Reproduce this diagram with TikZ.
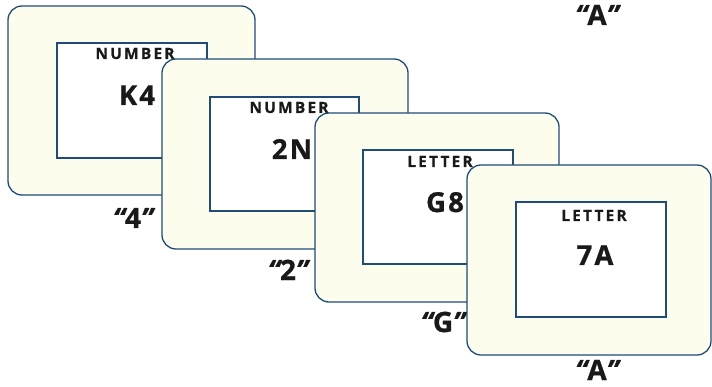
\documentclass[tikz,border=0pt]{standalone}
\usepackage{fontspec}
\setmainfont{Open Sans}
\definecolor{frame}{HTML}{1F4C78}
\definecolor{cream}{HTML}{FDFDEE}
\begin{document}
\begin{tikzpicture}[x=1pt,y=-1pt,
  card/.style={draw=frame,fill=cream,line width=1.3pt,rounded corners=14pt},
  win/.style={draw=frame,fill=white,line width=1.1pt},
  cat/.style={font=\bfseries\fontsize{15.5}{15.5}\selectfont\addfontfeatures{LetterSpace=14,FakeBold=0.6},text=black!90,inner sep=0pt,anchor=base},
  code/.style={font=\bfseries\fontsize{27.5}{27.5}\selectfont\addfontfeatures{LetterSpace=8,FakeBold=0.8},text=black!90,inner sep=0pt,anchor=base},
  result/.style={font=\bfseries\fontsize{28}{28}\selectfont\addfontfeatures{FakeBold=0.8},text=black!90,inner sep=0pt,anchor=base}]
\useasboundingbox (0,0) rectangle (712,387);
\newcommand{\qt}[1]{{\itshape “}#1{\itshape ”}}
% card 1
\draw[card] (8,6) rectangle (255,195);
\draw[win] (57,43) rectangle (207,158);
\node[cat] (c1) at (135,59) {NUMBER};
\node[code] (k1) at (137,105) {K4};
\node[result] (o1) at (133,228) {\qt{4}};
% card 2
\draw[card] (162,59) rectangle (408,249);
\draw[win] (210,97) rectangle (359,211);
\node[cat] (c2) at (289,113) {NUMBER};
\node[code] (k2) at (292,159) {2N};
\node[result] (o2) at (288,280) {\qt{2}};
% card 3
\draw[card] (315,113) rectangle (559,302);
\draw[win] (363,150) rectangle (513,264);
\node[cat] (c3) at (440,167) {LETTER};
\node[code] (k3) at (445,212) {G8};
\node[result] (o3) at (443,332) {\qt{G}};
% card 4
\draw[card] (467,165) rectangle (711,355);
\draw[win] (516,202) rectangle (666,317);
\node[cat] (c4) at (594,221) {LETTER};
\node[code] (k4) at (595,265) {7A};
\node[result] (o4) at (597,380) {\qt{A}};
\node[result] (o0) at (597,25) {\qt{A}};
\end{tikzpicture}
\end{document}
